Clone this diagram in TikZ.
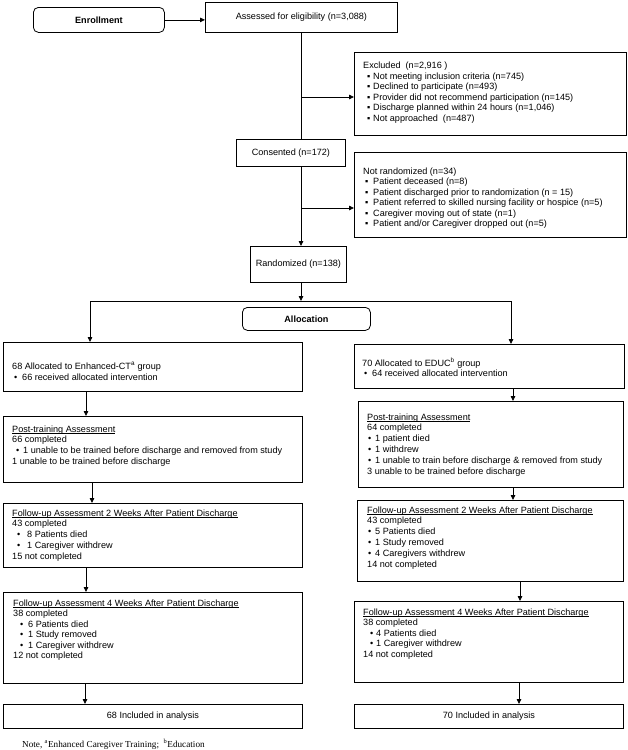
\documentclass[tikz,border=0pt]{standalone}
\usepackage{fontspec}
\setmainfont{Liberation Sans}
\newfontfamily\notefont{Liberation Serif}
\usetikzlibrary{arrows.meta}
\newcommand\fnt{\fontsize{9.1}{10.5}\selectfont}
\newcommand\fntl{\fontsize{9.1}{10.9}\selectfont}
\newcommand\bul[3]{\hspace*{#1pt}\makebox[#2pt][l]{#3}}
\newcommand\frm[7]{\node[#6, minimum width=#4pt, minimum height=#5pt] (#1) at (#2,#3) {#7};}
\newcommand\sqb{▪}
\newcommand\ulin[1]{\leavevmode\setbox0\hbox{#1}\rlap{\rule[-1.5pt]{\wd0}{0.45pt}}\box0}
\begin{document}
\begin{tikzpicture}[x=1pt,y=-1pt,
  frame/.style={draw, line width=0.8pt, inner sep=0pt, anchor=north west, font=\fnt},
  rframe/.style={frame, rounded corners=5pt},
  txt/.style={inner sep=0pt, anchor=base west, font=\fnt},
  txtl/.style={inner sep=0pt, anchor=base west, font=\fntl},
  arr/.style={line width=0.8pt, -{Triangle[length=5pt,width=4.5pt]}},
  ln/.style={line width=0.8pt}]
\useasboundingbox (0,0) rectangle (628,750);

% frames
\frm{enroll}{33}{7}{131}{25}{rframe}{\bfseries Enrollment}
\frm{assess}{205}{2}{192}{30}{frame}{Assessed for eligibility (n=3,088)}
\frm{excl}{354}{52}{272}{83}{frame}{}
\frm{consent}{236}{139}{109}{27}{frame}{Consented (n=172)}
\frm{notrand}{354}{152}{272}{85}{frame}{}
\frm{rand}{250}{246}{96}{36}{frame}{Randomized (n=138)}
\frm{alloc}{242}{307}{128}{23}{rframe}{\bfseries Allocation}
\frm{lalloc}{3}{342}{299}{49}{frame}{}
\frm{ralloc}{354}{344}{270}{44}{frame}{}
\frm{lpost}{3}{416}{299}{66}{frame}{}
\frm{rpost}{358}{401}{265}{86}{frame}{}
\frm{ltwo}{3}{503}{299}{64}{frame}{}
\frm{rtwo}{357}{500}{266}{81}{frame}{}
\frm{lfour}{3}{592}{299}{91}{frame}{}
\frm{rfour}{354}{601}{269}{81}{frame}{}
\frm{lincl}{3}{704}{299}{24}{frame}{68 Included in analysis}
\frm{rincl}{354}{704}{269}{24}{frame}{70 Included in analysis}

% texts
\node[txt] (excl-t) at (363,68.5) {\parbox[t]{255pt}{%
Excluded\ \ (n=2,916 )\\
\bul{4}{6}{\sqb}Not meeting inclusion criteria (n=745)\\
\bul{4}{6}{\sqb}Declined to participate (n=493)\\
\bul{4}{6}{\sqb}Provider did not recommend participation (n=145)\\
\bul{4}{6}{\sqb}Discharge planned within 24 hours (n=1,046)\\
\bul{4}{6}{\sqb}Not approached\ \ (n=487)}};

\node[txt] (notrand-t) at (363,174) {\parbox[t]{255pt}{%
Not randomized (n=34)\\
\bul{2}{8}{\sqb}Patient deceased (n=8)\\
\bul{2}{8}{\sqb}Patient discharged prior to randomization (n = 15)\\
\bul{2}{8}{\sqb}Patient referred to skilled nursing facility or hospice (n=5)\\
\bul{2}{8}{\sqb}Caregiver moving out of state (n=1)\\
\bul{2}{8}{\sqb}Patient and/or Caregiver dropped out (n=5)}};

\node[txtl] (lalloc-t) at (12,369.5) {\parbox[t]{280pt}{%
68 Allocated to Enhanced-CT\textsuperscript{a} group\\
\bul{2}{8}{•}66 received allocated intervention}};

\node[txtl] (ralloc-t) at (362,366) {\parbox[t]{255pt}{%
70 Allocated to EDUC\textsuperscript{b} group\\
\bul{2}{8}{•}64 received allocated intervention}};

\node[txtl] (lpost-t) at (12,432) {\parbox[t]{285pt}{%
\ulin{Post-training Assessment}\\
66 completed\\
\bul{4}{7}{•}1 unable to be trained before discharge and removed from study\\
1 unable to be trained before discharge}};

\node[txtl] (rpost-t) at (367,420) {\parbox[t]{250pt}{%
\ulin{Post-training Assessment}\\
64 completed\\
\bul{1}{7}{•}1 patient died\\
\bul{1}{7}{•}1 withdrew\\
\bul{1}{7}{•}1 unable to train before discharge \& removed from study\\
3 unable to be trained before discharge}};

\node[txtl] (ltwo-t) at (12,516) {\parbox[t]{285pt}{%
\ulin{Follow-up Assessment 2 Weeks After Patient Discharge}\\
43 completed\\
\bul{5}{10}{•}8 Patients died\\
\bul{5}{10}{•}1 Caregiver withdrew\\
15 not completed}};

\node[txtl] (rtwo-t) at (367,513) {\parbox[t]{250pt}{%
\ulin{Follow-up Assessment 2 Weeks After Patient Discharge}\\
43 completed\\
\bul{1}{7}{•}5 Patients died\\
\bul{1}{7}{•}1 Study removed\\
\bul{1}{7}{•}4 Caregivers withdrew\\
14 not completed}};

\node[txt] (lfour-t) at (13,606) {\parbox[t]{285pt}{%
\ulin{Follow-up Assessment 4 Weeks After Patient Discharge}\\
38 completed\\
\bul{7}{8}{•}6 Patients died\\
\bul{7}{8}{•}1 Study removed\\
\bul{7}{8}{•}1 Caregiver withdrew\\
12 not completed}};

\node[txt] (rfour-t) at (363,615) {\parbox[t]{255pt}{%
\ulin{Follow-up Assessment 4 Weeks After Patient Discharge}\\
38 completed\\
\bul{7}{6}{•}4 Patients died\\
\bul{7}{6}{•}1 Caregiver withdrew\\
14 not completed}};

\node[inner sep=0pt, anchor=base west, font=\notefont\fontsize{9.2}{11}\selectfont] (note) at (22,747)
  {Note, \textsuperscript{a}Enhanced Caregiver Training;\ \ \textsuperscript{b}Education};

% helper coordinates
\coordinate (exarr) at (301,97);
\coordinate (nrarr) at (301,208);
\coordinate (junc) at (301,301);
\coordinate (jl) at (90,301);
\coordinate (jr) at (511,301);
\coordinate (xl1) at (86,0);
\coordinate (xl2) at (92,0);
\coordinate (xl3) at (86,0);
\coordinate (xl4) at (85,0);
\coordinate (xr1) at (513,0);
\coordinate (xr2) at (513,0);
\coordinate (xr3) at (520,0);
\coordinate (xr4) at (519,0);

% connectors
\draw[arr] (enroll.east) -- (enroll.east -| assess.west);
\draw[ln] (assess.south -| junc) -- (consent.north -| junc);
\draw[arr] (exarr) -- (exarr -| excl.west);
\draw[arr] (consent.south -| junc) -- (rand.north -| junc);
\draw[arr] (nrarr) -- (nrarr -| notrand.west);
\draw[arr] (rand.south -| junc) -- (junc);
\draw[ln] (jl) -- (jr);
\draw[arr] (jl) -- (jl |- lalloc.north);
\draw[arr] (jr) -- (jr |- ralloc.north);

\draw[arr] (lalloc.south -| xl1) -- (lpost.north -| xl1);
\draw[arr] (lpost.south -| xl2) -- (ltwo.north -| xl2);
\draw[arr] (ltwo.south -| xl3) -- (lfour.north -| xl3);
\draw[arr] (lfour.south -| xl4) -- (lincl.north -| xl4);

\draw[arr] (ralloc.south -| xr1) -- (rpost.north -| xr1);
\draw[arr] (rpost.south -| xr2) -- (rtwo.north -| xr2);
\draw[arr] (rtwo.south -| xr3) -- (rfour.north -| xr3);
\draw[arr] (rfour.south -| xr4) -- (rincl.north -| xr4);
\end{tikzpicture}
\end{document}
